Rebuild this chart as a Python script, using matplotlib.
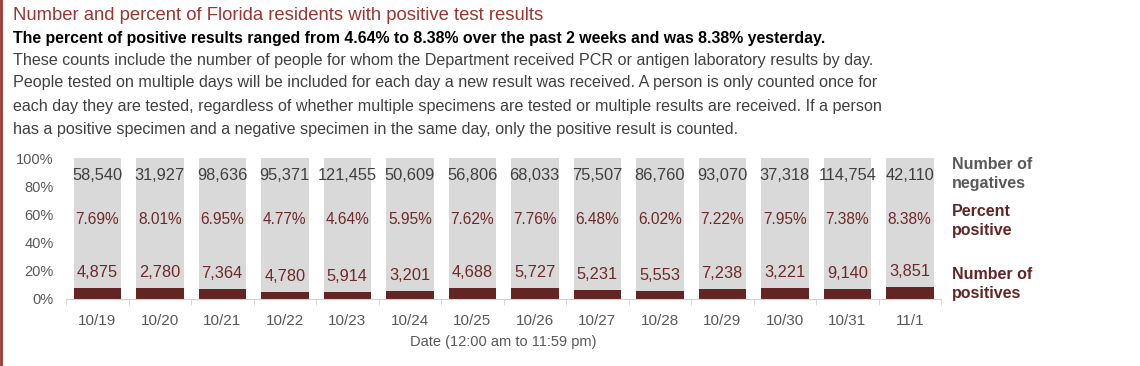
import matplotlib.pyplot as plt
from matplotlib.lines import Line2D
import numpy as np

dates = ["10/19", "10/20", "10/21", "10/22", "10/23", "10/24", "10/25",
         "10/26", "10/27", "10/28", "10/29", "10/30", "10/31", "11/1"]
negatives = [58540, 31927, 98636, 95371, 121455, 50609, 56806,
             68033, 75507, 86760, 93070, 37318, 114754, 42110]
positives = [4875, 2780, 7364, 4780, 5914, 3201, 4688,
             5727, 5231, 5553, 7238, 3221, 9140, 3851]
pct_positive = [7.69, 8.01, 6.95, 4.77, 4.64, 5.95, 7.62,
                7.76, 6.48, 6.02, 7.22, 7.95, 7.38, 8.38]

title = "Number and percent of Florida residents with positive test results"
subtitle = ("The percent of positive results ranged from 4.64% to 8.38% "
            "over the past 2 weeks and was 8.38% yesterday.")
body = [
    "These counts include the number of people for whom the Department received PCR or antigen laboratory results by day.",
    "People tested on multiple days will be included for each day a new result was received. A person is only counted once for",
    "each day they are tested, regardless of whether multiple specimens are tested or multiple results are received. If a person",
    "has a positive specimen and a negative specimen in the same day, only the positive result is counted.",
]

RED_TITLE = "#9e3430"
DARK_RED = "#632523"
PCT_RED = "#6e2a28"
GRAY_BAR = "#d9d9d9"
TEXT_GRAY = "#404040"
TICK_GRAY = "#595959"

plt.rcParams['font.family'] = ['Liberation Sans', 'DejaVu Sans']

fig = plt.figure(figsize=(11.4, 3.66), dpi=100)
ax = fig.add_axes([66 / 1140, 1 - 299 / 366, 875 / 1140, 141 / 366])

x = np.arange(len(dates))
w = 0.76
ax.bar(x, [100] * len(x), width=w, color=GRAY_BAR, zorder=1)
ax.bar(x, pct_positive, width=w, color=DARK_RED, zorder=2)

for i in range(len(x)):
    ax.text(x[i], 87.4, f"{negatives[i]:,}", ha="center", va="center",
            fontsize=11.8, color=TEXT_GRAY)
    ax.text(x[i], 56.7, f"{pct_positive[i]:.2f}%", ha="center", va="center",
            fontsize=11.2, color=PCT_RED)
    ax.text(x[i], pct_positive[i] + 11, f"{positives[i]:,}", ha="center",
            va="center", fontsize=11.8, color=PCT_RED)

ax.set_xlim(-0.5, len(x) - 0.5)
ax.set_ylim(0, 100)
ax.set_yticks([0, 20, 40, 60, 80, 100])
ax.set_yticklabels([f"{v}%" for v in [0, 20, 40, 60, 80, 100]])
ax.tick_params(axis="y", length=0, labelsize=10.5, labelcolor=TICK_GRAY, pad=9)
ax.set_xticks(x)
ax.set_xticklabels(dates)
ax.tick_params(axis="x", which="major", length=0, labelsize=11,
               labelcolor=TICK_GRAY, pad=11)
ax.set_xticks(np.arange(-0.5, len(x), 1), minor=True)
ax.tick_params(axis="x", which="minor", length=4, color="#d0d0d0")
for s in ["top", "right", "left"]:
    ax.spines[s].set_visible(False)
ax.spines["bottom"].set_color("#d0d0d0")
ax.set_xlabel("Date (12:00 am to 11:59 pm)", fontsize=10.5, color=TICK_GRAY,
              labelpad=5)

fig.text(952 / 1140, 1 - 174 / 366, "Number of\nnegatives", fontsize=11.5,
         color=TICK_GRAY, fontweight="bold", va="center", linespacing=1.3)
fig.text(952 / 1140, 1 - 221 / 366, "Percent\npositive", fontsize=11.5,
         color=DARK_RED, fontweight="bold", va="center", linespacing=1.3)
fig.text(952 / 1140, 1 - 284 / 366, "Number of\npositives", fontsize=11.5,
         color=DARK_RED, fontweight="bold", va="center", linespacing=1.3)

fig.text(13 / 1140, 1 - 16 / 366, title, fontsize=13.3, color=RED_TITLE,
         va="center")
fig.text(13 / 1140, 1 - 38 / 366, subtitle, fontsize=11.4, color="black",
         fontweight="bold", va="center")
for k, line in enumerate(body):
    fig.text(13 / 1140, 1 - (60 + 23 * k) / 366, line, fontsize=11.6,
             color=TEXT_GRAY, va="center")

fig.add_artist(Line2D([1 / 1140, 1 / 1140], [0, 1], color=RED_TITLE, lw=2,
                      transform=fig.transFigure))

fig.savefig("out.png", dpi=100)
